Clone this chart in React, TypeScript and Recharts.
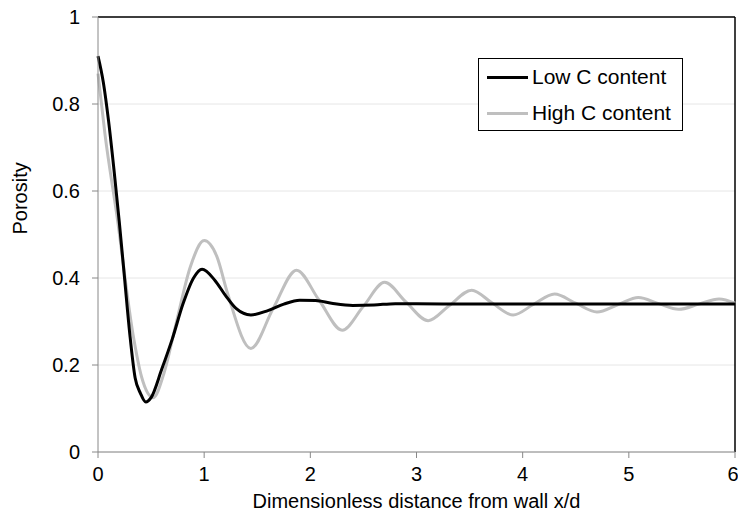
import { ReactElement } from 'react'
import { LineChart, Line, XAxis, YAxis, CartesianGrid, ReferenceLine } from 'recharts'

// low carbon content: x/d and porosity
const lowX = [0, 0.05, 0.1, 0.15, 0.2, 0.25, 0.3, 0.35, 0.4, 0.45, 0.5, 0.6, 0.7, 0.8, 0.9, 0.98, 1.1, 1.2, 1.3, 1.44, 1.6, 1.75, 1.9, 2.05, 2.2, 2.4, 2.6, 2.8, 3, 3.5, 4, 5, 6]
const lowY = [0.91, 0.85, 0.76, 0.65, 0.53, 0.4, 0.27, 0.17, 0.135, 0.115, 0.125, 0.19, 0.26, 0.34, 0.4, 0.42, 0.395, 0.36, 0.33, 0.315, 0.325, 0.34, 0.349, 0.348, 0.342, 0.337, 0.338, 0.341, 0.341, 0.34, 0.34, 0.34, 0.34]

// high carbon content
const highX = [0, 0.066, 0.18, 0.33, 0.41, 0.52, 0.62, 0.74, 0.87, 1.0, 1.12, 1.22, 1.44, 1.65, 1.87, 2.08, 2.3, 2.5, 2.7, 2.9, 3.11, 3.31, 3.52, 3.71, 3.91, 4.1, 4.3, 4.5, 4.7, 4.9, 5.09, 5.28, 5.47, 5.66, 5.85, 6]
const highY = [0.87, 0.73, 0.54, 0.27, 0.173, 0.125, 0.18, 0.3, 0.426, 0.486, 0.449, 0.365, 0.238, 0.33, 0.418, 0.35, 0.28, 0.335, 0.39, 0.345, 0.302, 0.337, 0.372, 0.343, 0.315, 0.339, 0.363, 0.342, 0.322, 0.339, 0.355, 0.341, 0.328, 0.34, 0.352, 0.342]

const xTicks = [0, 1, 2, 3, 4, 5, 6]
const yTicks = [0, 0.2, 0.4, 0.6, 0.8, 1]

const seriesNames = ['Low C content', 'High C content']
const seriesColors = ['#000', '#bfbfbf']

const lowData = lowX.map((x, i) => ({ x, y: lowY[i] }))
const highData = highX.map((x, i) => ({ x, y: highY[i] }))

const FONT = 'Liberation Sans, Arial, sans-serif'

const LegendBox = (): ReactElement => (
    <div
        style={{
            position: 'absolute',
            left: 478,
            top: 58,
            border: '1px solid #000',
            background: '#fff',
            width: 205,
            height: 73,
            boxSizing: 'border-box',
            fontFamily: FONT,
            fontSize: 21,
            color: '#000',
            paddingLeft: 8,
        }}
    >
        {seriesNames.map((name, i) => (
            <div key={name} style={{ display: 'flex', alignItems: 'center', height: 36 }}>
                <span style={{ display: 'inline-block', width: 41, height: 3, background: seriesColors[i], marginRight: 4 }} />
                {name}
            </div>
        ))}
    </div>
)

export default function App(): ReactElement {
    return (
        <div style={{ position: 'absolute', left: 0, top: 0, width: 738, height: 517, background: '#fff' }}>
            <LineChart width={738} height={517} margin={{ top: 17, right: 3, left: 0, bottom: 0 }}>
                <CartesianGrid vertical={false} stroke="#e6e6e6" />
                <XAxis
                    type="number"
                    dataKey="x"
                    domain={[0, 6]}
                    ticks={xTicks}
                    height={65}
                    stroke="#888"
                    tickSize={6}
                    tickMargin={9}
                    tick={{ fill: '#000', fontSize: 20, fontFamily: FONT }}
                    label={{ value: 'Dimensionless distance from wall x/d', position: 'insideBottom', offset: 9, fill: '#000', fontSize: 20, fontFamily: FONT }}
                />
                <YAxis
                    type="number"
                    domain={[0, 1]}
                    ticks={yTicks}
                    width={98}
                    stroke="#888"
                    tickSize={6}
                    tickMargin={12}
                    tickFormatter={(v: number) => String(v)}
                    tick={{ fill: '#000', fontSize: 20, fontFamily: FONT }}
                    label={{ value: 'Porosity', angle: -90, position: 'insideLeft', offset: 20, fill: '#000', fontSize: 20, fontFamily: FONT }}
                />
                <ReferenceLine y={1} stroke="#000" strokeWidth={1.5} />
                <ReferenceLine x={6} stroke="#000" strokeWidth={1.5} />
                <Line
                    data={highData}
                    dataKey="y"
                    name={seriesNames[1]}
                    type="monotone"
                    stroke={seriesColors[1]}
                    strokeWidth={3}
                    dot={false}
                    isAnimationActive={false}
                />
                <Line
                    data={lowData}
                    dataKey="y"
                    name={seriesNames[0]}
                    type="monotone"
                    stroke={seriesColors[0]}
                    strokeWidth={3}
                    dot={false}
                    isAnimationActive={false}
                />
            </LineChart>
            <LegendBox />
        </div>
    )
}
